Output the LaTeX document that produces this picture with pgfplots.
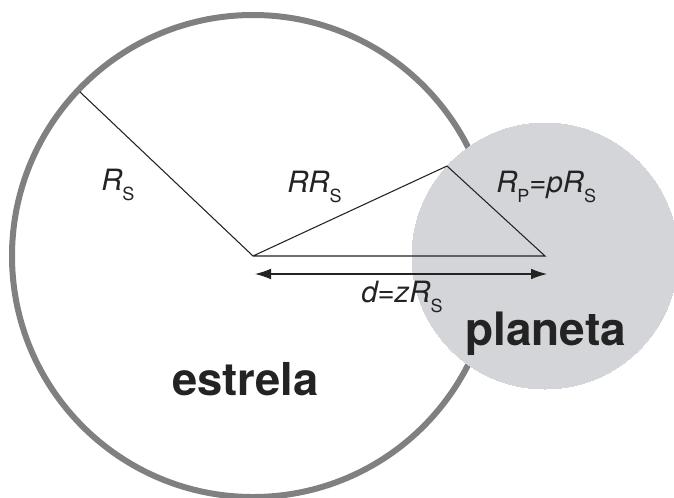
\documentclass[border=0pt]{standalone}
\usepackage{fontspec}
\setmainfont{TeX Gyre Heros}
\usepackage{pgfplots}
\pgfplotsset{compat=1.18}
\usetikzlibrary{arrows.meta}

\definecolor{starline}{RGB}{128,128,130}
\definecolor{planetfill}{RGB}{211,213,216}
\definecolor{ink}{RGB}{35,35,35}

% upright lowered subscript, as in the figure
\newcommand\sub[1]{\raisebox{-8pt}{\fontsize{13.5}{13.5}\selectfont\upshape #1}}
\newcommand\lab{\fontsize{22}{22}\selectfont\itshape}

\pgfplotsset{pixframe/.style={
    scale only axis,
    width=505.5pt, height=372.75pt,
    xmin=0, xmax=674, ymin=0, ymax=497,
    y dir=reverse,
    hide axis,
    clip=true,
}}

\begin{document}
\begin{tikzpicture}
% bodies (pixel units, mark size = radius * 0.75pt)
\begin{axis}[pixframe]
\addplot[only marks, mark=*, mark size=180.75pt,
    mark options={draw=starline, fill=white, line width=4.5pt}]
    coordinates {(253,256)};
\addplot[only marks, mark=*, mark size=99.75pt,
    mark options={draw=planetfill, fill=planetfill, line width=0pt}]
    coordinates {(545,256)};
\end{axis}
% geometry and labels on top
\begin{axis}[pixframe]
\addplot[ink, line width=0.8pt, line join=miter, mark=none] coordinates {
    (80,92) (253,256) (447,166) (545,256) (253,256)
};
\addplot[ink, line width=0.8pt, mark=none,
    {Latex[length=12pt,width=8pt]}-{Latex[length=12pt,width=8pt]}]
    coordinates {(255,274) (547,274)};

\node[anchor=base west, inner sep=0, text=ink] at (101,190) {\lab R\sub{S}};
\node[anchor=base west, inner sep=0, text=ink] at (287,192) {\lab RR\sub{S}};
\node[anchor=base west, inner sep=0, text=ink] at (496,192) {\lab R\sub{P}=pR\sub{S}};
\node[anchor=base west, inner sep=0, text=ink] at (361,302) {\lab d=zR\sub{S}};
\node[anchor=base west, inner sep=0, text=ink] at (465,345)
    {\fontsize{34.5}{34.5}\selectfont\bfseries planeta};
\node[anchor=base west, inner sep=0, text=ink] at (172,395)
    {\fontsize{34}{34}\selectfont\bfseries estrela};
\end{axis}
\pgfresetboundingbox
\useasboundingbox (current axis.south west) rectangle (current axis.north east);
\end{tikzpicture}
\end{document}
